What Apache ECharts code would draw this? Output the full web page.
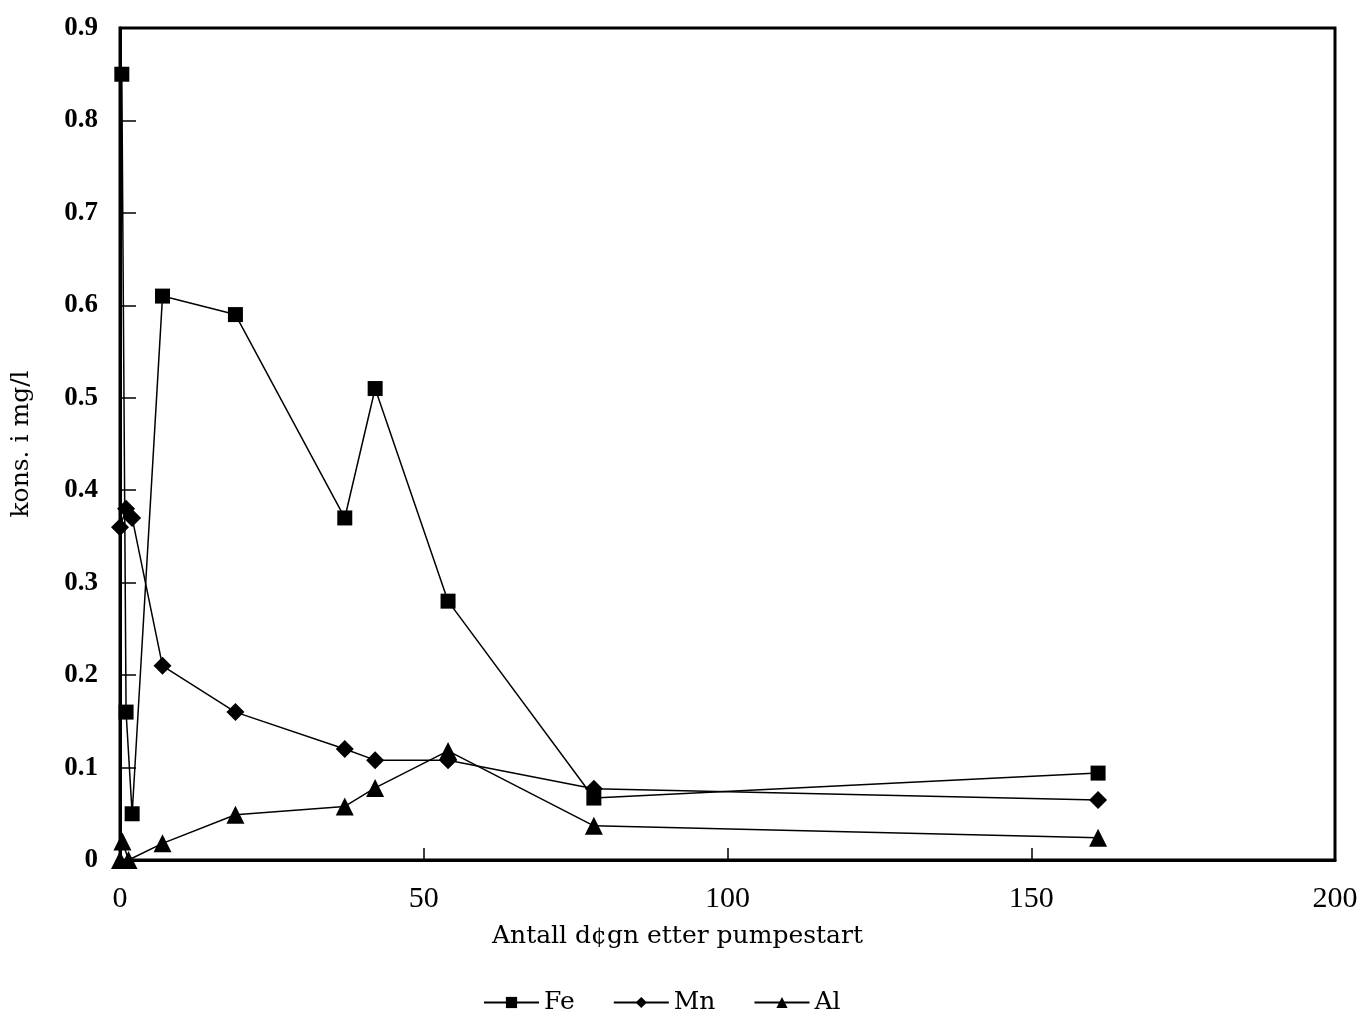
<!DOCTYPE html>
<html>
<head>
<meta charset="utf-8">
<script src="https://cdn.jsdelivr.net/npm/echarts@6/dist/echarts.min.js"></script>
<style>
  html, body { margin: 0; padding: 0; background: #fff; }
  #chart { width: 1360px; height: 1014px; }
</style>
</head>
<body>
<div id="chart"></div>
<script>
// Data
const days = [0.3, 1, 2, 7, 19, 37, 42, 54, 78, 161];
const fe = [0.85, 0.16, 0.05, 0.61, 0.59, 0.37, 0.51, 0.28, 0.067, 0.094];
const mnDays = [0, 1, 2, 7, 19, 37, 42, 54, 78, 161];
const mn = [0.36, 0.38, 0.37, 0.21, 0.16, 0.12, 0.108, 0.108, 0.077, 0.065];
const alDays = [0, 0.4, 1.4, 7, 19, 37, 42, 54, 78, 161];
const al = [0, 0.02, 0, 0.018, 0.049, 0.058, 0.078, 0.118, 0.037, 0.024];

const TIMES = '"Liberation Serif", "DejaVu Serif", serif';
const WIDE = '"DejaVu Serif", "Liberation Serif", serif';

function pairs(xs, ys) {
  return xs.map((x, i) => [x, ys[i]]);
}

function lineSeries(name, data, symbol, size) {
  return {
    name: name,
    type: 'line',
    data: data,
    symbol: symbol,
    symbolSize: size,
    lineStyle: { color: '#000', width: 1.5 },
    itemStyle: { color: '#000' },
    animation: false
  };
}

const chart = echarts.init(document.getElementById('chart'));
chart.setOption({
  backgroundColor: '#fff',
  textStyle: { fontFamily: TIMES, color: '#000' },
  grid: { left: 120, right: 25, top: 28, bottom: 154, outerBoundsMode: 'none', containLabel: false },
  legend: {
    left: 478,
    top: 985,
    itemWidth: 55,
    itemHeight: 14,
    itemGap: 38,
    textStyle: { fontFamily: WIDE, fontSize: 25, color: '#000' },
    data: ['Fe', 'Mn', 'Al']
  },
  xAxis: {
    type: 'value',
    min: 0,
    max: 200,
    interval: 50,
    name: 'Antall d\u00a2gn etter pumpestart',
    nameLocation: 'middle',
    nameGap: 64,
    nameTextStyle: { fontFamily: WIDE, fontSize: 25, color: '#000', padding: [0, 100, 0, 0] },
    axisLine: { show: true, lineStyle: { color: '#000', width: 3 } },
    axisTick: { show: true, inside: true, length: 12, lineStyle: { color: '#000', width: 1.5 } },
    axisLabel: { fontFamily: TIMES, fontSize: 30, color: '#000', margin: 24 },
    splitLine: { show: false }
  },
  yAxis: {
    type: 'value',
    min: 0,
    max: 0.9,
    interval: 0.1,
    name: 'kons. i mg/l',
    nameLocation: 'middle',
    nameGap: 86,
    nameTextStyle: { fontFamily: WIDE, fontSize: 25, color: '#000' },
    axisLine: { show: true, lineStyle: { color: '#000', width: 3 } },
    axisTick: { show: true, inside: true, length: 16, lineStyle: { color: '#000', width: 1.5 } },
    axisLabel: { fontFamily: TIMES, fontSize: 27, fontWeight: 'bold', color: '#000', margin: 22 },
    splitLine: { show: false }
  },
  graphic: [{
    type: 'rect',
    shape: { x: 120, y: 28, width: 1215, height: 832 },
    style: { fill: 'none', stroke: '#000', lineWidth: 3 },
    silent: true,
    z: 10
  }],
  series: [
    lineSeries('Fe', pairs(days, fe), 'rect', 15),
    lineSeries('Mn', pairs(mnDays, mn), 'diamond', 18),
    lineSeries('Al', pairs(alDays, al), 'triangle', 18)
  ]
});
</script>
</body>
</html>
